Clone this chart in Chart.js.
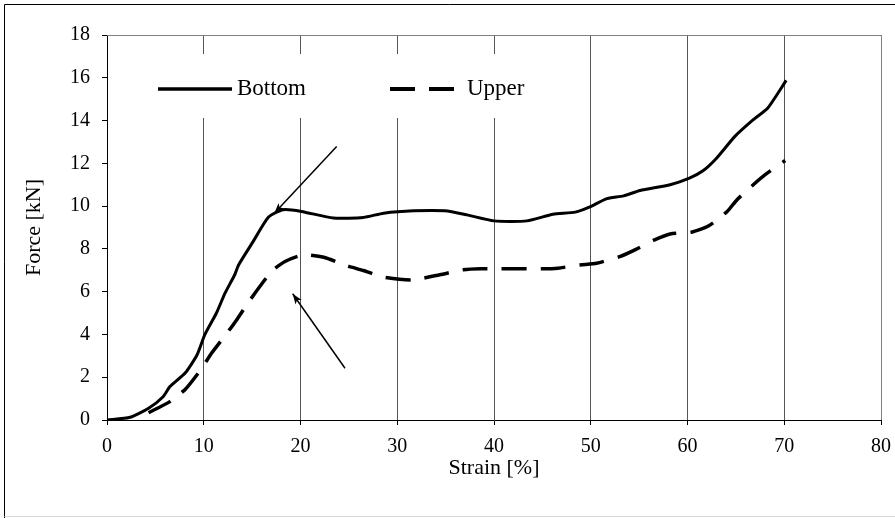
<!DOCTYPE html>
<html>
<head>
<meta charset="utf-8">
<script src="https://cdn.jsdelivr.net/npm/chart.js@4/dist/chart.umd.min.js"></script>
<style>
  html, body { margin: 0; padding: 0; background: #fff; }
  #wrap { width: 895px; height: 518px; position: relative; }
</style>
</head>
<body>
<div id="wrap"><canvas id="forceChart" width="895" height="518"></canvas></div>
<script>
// Data (strain in %, force in kN)
const bottomStrain = [0, 2.4, 4.3, 5.8, 6.5, 8.1, 9.3, 10.1, 11.3, 12.2, 13.2, 13.6, 15.1, 16.7, 18.2, 20.1, 23.4, 26.5, 28.6, 31.7, 34.9, 37.2, 40.0, 43.4, 46.1, 48.4, 50.1, 51.6, 53.4, 55.1, 58.2, 60.2, 61.6, 63.0, 64.9, 66.8, 68.3, 70.2];
const bottomForce  = [0, 0.13, 0.55, 1.09, 1.56, 2.21, 3.04, 3.98, 4.99, 5.93, 6.79, 7.25, 8.34, 9.49, 9.83, 9.75, 9.44, 9.47, 9.67, 9.78, 9.78, 9.59, 9.31, 9.31, 9.62, 9.72, 10.0, 10.34, 10.48, 10.73, 11.0, 11.31, 11.65, 12.24, 13.26, 14.04, 14.59, 15.88];

const upperStrain = [4.3, 6.5, 8.1, 9.8, 10.8, 12.4, 13.4, 14.8, 17.0, 18.4, 20.3, 22.4, 24.8, 26.5, 28.6, 31.5, 34.4, 36.8, 38.6, 45.1, 46.6, 48.9, 50.6, 53.0, 54.4, 56.6, 58.2, 60.4, 62.2, 64.1, 65.1, 66.8, 68.0, 70.1];
const upperForce  = [0.34, 0.86, 1.44, 2.42, 3.12, 4.06, 4.68, 5.62, 6.94, 7.41, 7.72, 7.61, 7.21, 6.99, 6.68, 6.55, 6.79, 7.02, 7.07, 7.07, 7.1, 7.25, 7.33, 7.64, 7.92, 8.42, 8.70, 8.78, 9.08, 9.75, 10.29, 11.0, 11.46, 12.13];

const seriesNames = ['Bottom', 'Upper'];
const xTicks = [0, 10, 20, 30, 40, 50, 60, 70, 80];
const yTicks = [0, 2, 4, 6, 8, 10, 12, 14, 16, 18];

// arrows pointing at the peaks: [fromX, fromY, toX, toY] in data units
const arrowBottom = [23.74, 12.79, 17.29, 9.67];
const arrowUpper  = [24.6, 2.42, 19.19, 5.90];

const serif = 'Liberation Serif';

function toPoints(xs, ys) {
  return xs.map((x, i) => ({ x: x, y: ys[i] }));
}

// frame around the whole picture + top edge of the plot area
const framePlugin = {
  id: 'frame',
  beforeDraw(chart) {
    const ctx = chart.ctx;
    ctx.save();
    ctx.fillStyle = '#fff';
    ctx.fillRect(0, 0, chart.width, chart.height);
    ctx.lineWidth = 1;
    ctx.strokeStyle = '#000';
    ctx.beginPath();
    ctx.moveTo(4.5, chart.height);
    ctx.lineTo(4.5, 4.5);
    ctx.lineTo(chart.width, 4.5);
    ctx.stroke();
    ctx.strokeStyle = '#d8d8d8';
    ctx.beginPath();
    ctx.moveTo(4.5, 516.5);
    ctx.lineTo(chart.width, 516.5);
    ctx.stroke();
    ctx.restore();
  },
  afterDraw(chart) {
    const ctx = chart.ctx;
    const a = chart.chartArea;
    ctx.save();
    ctx.strokeStyle = '#808080';
    ctx.lineWidth = 1;
    ctx.beginPath();
    ctx.moveTo(a.left, Math.round(a.top) + 0.5);
    ctx.lineTo(a.right, Math.round(a.top) + 0.5);
    ctx.stroke();
    ctx.restore();
  }
};

// legend sitting inside the plot, on a white box
const insideLegend = {
  id: 'insideLegend',
  afterDatasetsDraw(chart) {
    const ctx = chart.ctx;
    ctx.save();
    ctx.fillStyle = '#fff';
    ctx.fillRect(140, 54, 420, 64);
    const y = 89;
    ctx.strokeStyle = '#000';
    ctx.lineWidth = 3.5;
    ctx.beginPath();
    ctx.moveTo(158, y);
    ctx.lineTo(232, y);
    ctx.stroke();
    ctx.setLineDash([25, 14]);
    ctx.lineWidth = 4;
    ctx.beginPath();
    ctx.moveTo(390, y);
    ctx.lineTo(454, y);
    ctx.stroke();
    ctx.setLineDash([]);
    ctx.fillStyle = '#000';
    ctx.font = '23px "' + serif + '"';
    ctx.textBaseline = 'middle';
    ctx.textAlign = 'left';
    ctx.fillText(seriesNames[0], 237, y);
    ctx.fillText(seriesNames[1], 467, y);
    ctx.restore();
  }
};

// arrow annotations, positioned through the scales
const arrowPlugin = {
  id: 'arrows',
  afterDatasetsDraw(chart) {
    const ctx = chart.ctx;
    const xs = chart.scales.x, ys = chart.scales.y;
    [arrowBottom, arrowUpper].forEach(a => {
      const x1 = xs.getPixelForValue(a[0]), y1 = ys.getPixelForValue(a[1]);
      const x2 = xs.getPixelForValue(a[2]), y2 = ys.getPixelForValue(a[3]);
      const ang = Math.atan2(y2 - y1, x2 - x1);
      ctx.save();
      ctx.strokeStyle = '#000';
      ctx.fillStyle = '#000';
      ctx.lineWidth = 1.5;
      ctx.beginPath();
      ctx.moveTo(x1, y1);
      ctx.lineTo(x2, y2);
      ctx.stroke();
      const len = 11, wing = 0.35;
      ctx.beginPath();
      ctx.moveTo(x2, y2);
      ctx.lineTo(x2 - len * Math.cos(ang - wing), y2 - len * Math.sin(ang - wing));
      ctx.lineTo(x2 - len * 0.7 * Math.cos(ang), y2 - len * 0.7 * Math.sin(ang));
      ctx.lineTo(x2 - len * Math.cos(ang + wing), y2 - len * Math.sin(ang + wing));
      ctx.closePath();
      ctx.fill();
      ctx.restore();
    });
  }
};

const ctx = document.getElementById('forceChart').getContext('2d');
const forceChart = new Chart(ctx, {
  type: 'line',
  data: {
    datasets: [
      {
        label: seriesNames[0],
        data: toPoints(bottomStrain, bottomForce),
        borderColor: '#000',
        borderWidth: 3,
        pointRadius: 0,
        tension: 0.2,
        fill: false
      },
      {
        label: seriesNames[1],
        data: toPoints(upperStrain, upperForce),
        borderColor: '#000',
        borderWidth: 3.5,
        borderDash: [25, 14],
        pointRadius: 0,
        tension: 0.2,
        fill: false
      }
    ]
  },
  options: {
    responsive: false,
    animation: false,
    layout: { padding: { left: 0, top: 35, right: 14, bottom: 0 } },
    plugins: {
      legend: { display: false },
      tooltip: { enabled: false }
    },
    scales: {
      x: {
        type: 'linear',
        min: 0,
        max: 80,
        afterFit(scale) {
          scale.height = 98;
          scale.paddingLeft = 0;
          scale.paddingRight = 0;
        },
        afterBuildTicks(scale) { scale.ticks = xTicks.map(v => ({ value: v })); },
        ticks: {
          color: '#000',
          padding: 10,
          maxRotation: 0,
          font: { family: serif, size: 20 }
        },
        grid: {
          color: c => (c.tick && c.tick.value === 0) ? 'rgba(0,0,0,0)' : (c.tick && c.tick.value === 80 ? '#808080' : '#555'),
          tickColor: '#000',
          tickLength: 5,
          lineWidth: 1
        },
        border: { color: '#000', width: 1 },
        title: {
          display: true,
          text: 'Strain [%]',
          color: '#000',
          font: { family: serif, size: 22 },
          padding: { top: 0, bottom: 37 }
        }
      },
      y: {
        min: 0,
        max: 18,
        afterFit(scale) {
          scale.width = 107;
          scale.paddingTop = 0;
          scale.paddingBottom = 0;
        },
        afterBuildTicks(scale) { scale.ticks = yTicks.map(v => ({ value: v })); },
        ticks: {
          color: '#000',
          padding: 12,
          font: { family: serif, size: 20 }
        },
        grid: {
          drawOnChartArea: false,
          tickColor: '#000',
          tickLength: 5
        },
        border: { color: '#000', width: 1 },
        title: {
          display: true,
          text: 'Force [kN]',
          color: '#000',
          font: { family: serif, size: 22 },
          padding: { top: 21, bottom: 0 }
        }
      }
    }
  },
  plugins: [framePlugin, insideLegend, arrowPlugin]
});
</script>
</body>
</html>
